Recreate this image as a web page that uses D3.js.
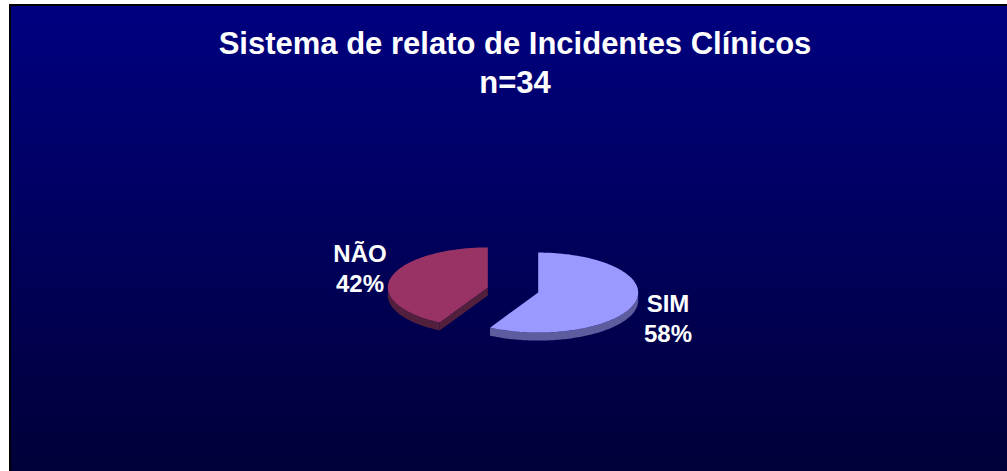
<!DOCTYPE html>
<html>
<head>
<meta charset="utf-8">
<script src="https://cdn.jsdelivr.net/npm/d3@7"></script>
<style>
  html, body { margin: 0; padding: 0; background: #ffffff; }
  svg { display: block; }
  text { font-family: "Liberation Sans", Arial, sans-serif; font-weight: bold; fill: #ffffff; }
</style>
</head>
<body>
<svg id="chart"></svg>
<script>
// chart data
const categories = ['SIM', 'NÃO'];
const values = [58, 42];
const percentLabels = ['58%', '42%'];
const titleLines = ['Sistema de relato de Incidentes Clínicos', 'n=34'];

const config = {
    width: 1007,
    height: 471,
    frameLeft: 10,
    frameTop: 5,
    cx: 513,
    cy: 290,
    rx: 100,
    ry: 40,
    depth: 8,
    explode: 26
};

const topColours = ['#9999ff', '#993366'];
const sideColours = ['#5c5c9e', '#52203c'];

const svg = d3.select('#chart')
    .attr('width', config.width)
    .attr('height', config.height);

// background gradient
const defs = svg.append('defs');
const bg = defs.append('linearGradient')
    .attr('id', 'bg-gradient')
    .attr('x1', 0).attr('y1', 0).attr('x2', 0).attr('y2', 1);
bg.append('stop').attr('offset', 0).attr('stop-color', '#000080');
bg.append('stop').attr('offset', 1).attr('stop-color', '#000038');

svg.append('rect')
    .attr('x', config.frameLeft)
    .attr('y', config.frameTop)
    .attr('width', config.width + 20)
    .attr('height', config.height)
    .attr('fill', 'url(#bg-gradient)')
    .attr('stroke', '#000000')
    .attr('stroke-width', 2);

// title
svg.append('g')
    .selectAll('text')
    .data(titleLines)
    .join('text')
    .attr('x', 515)
    .attr('y', (d, i) => 54 + i * 39)
    .attr('text-anchor', 'middle')
    .attr('font-size', 31)
    .text(d => d);

// pie
const pie = d3.pie().sort(null).value(d => d.value);
const slices = pie(categories.map((c, i) => ({name: c, value: values[i], label: percentLabels[i], i})));

// angle measured clockwise from 12 o'clock
const px = (a, ox) => ox + config.rx * Math.sin(a);
const py = (a, oy) => oy - config.ry * Math.cos(a);

const chart = svg.append('g').attr('class', 'pie');

slices.forEach(s => {
    const mid = (s.startAngle + s.endAngle) / 2;
    s.ox = config.cx + config.explode * Math.sin(mid);
    s.oy = config.cy - config.explode * Math.cos(mid) * config.ry / config.rx;
});

function rimPath(s) {
    // front half of the rim is the part between PI/2 and 3PI/2
    const a0 = Math.max(s.startAngle, Math.PI / 2);
    const a1 = Math.min(s.endAngle, 3 * Math.PI / 2);
    if (a1 <= a0) return null;
    const steps = d3.range(a0, a1, 0.02).concat([a1]);
    const topPts = steps.map(a => [px(a, s.ox), py(a, s.oy)]);
    const botPts = steps.slice().reverse().map(a => [px(a, s.ox), py(a, s.oy) + config.depth]);
    return d3.line()(topPts.concat(botPts)) + 'Z';
}

function radialFacePath(s, a) {
    const p = [
        [s.ox, s.oy],
        [px(a, s.ox), py(a, s.oy)],
        [px(a, s.ox), py(a, s.oy) + config.depth],
        [s.ox, s.oy + config.depth]
    ];
    return d3.line()(p) + 'Z';
}

function topPath(s) {
    const steps = d3.range(s.startAngle, s.endAngle, 0.02).concat([s.endAngle]);
    const pts = [[s.ox, s.oy]].concat(steps.map(a => [px(a, s.ox), py(a, s.oy)]));
    return d3.line()(pts) + 'Z';
}

slices.forEach(s => {
    const g = chart.append('g');
    const col = sideColours[s.data.i];
    // radial faces turned towards the viewer
    if (s.startAngle > Math.PI && s.startAngle < 2 * Math.PI) {
        g.append('path').attr('d', radialFacePath(s, s.startAngle)).attr('fill', col);
    }
    if (s.endAngle < Math.PI) {
        g.append('path').attr('d', radialFacePath(s, s.endAngle)).attr('fill', col);
    }
    const rim = rimPath(s);
    if (rim) g.append('path').attr('d', rim).attr('fill', col);
    g.append('path').attr('d', topPath(s)).attr('fill', topColours[s.data.i]);
});

// data labels
const labelPos = {SIM: [668, 312], 'NÃO': [360, 262]};
const labels = svg.append('g').attr('class', 'labels');
slices.forEach(s => {
    const [lx, ly] = labelPos[s.data.name];
    const t = labels.append('text')
        .attr('x', lx)
        .attr('y', ly)
        .attr('text-anchor', 'middle')
        .attr('font-size', 24);
    t.append('tspan').attr('x', lx).text(s.data.name);
    t.append('tspan').attr('x', lx).attr('dy', 30).text(s.data.label);
});
</script>
</body>
</html>
